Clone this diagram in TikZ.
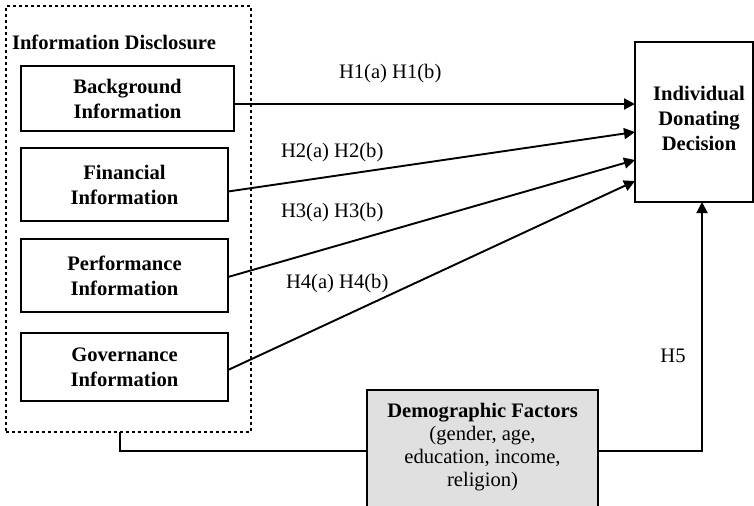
\documentclass[tikz,border=0pt]{standalone}
\usepackage{fontspec}
\setmainfont{Liberation Serif}
\usetikzlibrary{arrows.meta}
\begin{document}
\begin{tikzpicture}[x=0.5pt,y=-0.5pt,
  every node/.style={inner sep=0pt,outer sep=0pt},
  box/.style={draw,line width=0.95pt,align=center,
    font=\fontsize{10.3}{12.5}\selectfont\bfseries},
  hyp/.style={font=\fontsize{10.3}{12.5}\selectfont},
  link/.style={line width=0.95pt,-{Triangle[length=5.5pt,width=5.5pt]}},
  plain/.style={line width=0.95pt}]
\useasboundingbox (0,0) rectangle (754,505);
\clip (0,0) rectangle (754,505);

% dashed group of disclosure items
\node[draw,line width=0.9pt,dash pattern=on 1.6pt off 1.4pt,
  minimum width=122.5pt,minimum height=213pt] (disc) at (128.5,219) {};
\node[anchor=west,font=\fontsize{10.3}{12.5}\selectfont\bfseries] (disctitle) at (12,42) {Information Disclosure};

\node[box,minimum width=106.5pt,minimum height=32.5pt] (bg) at (127.5,98.5) {Background\\Information};
\node[box,minimum width=103.5pt,minimum height=36.5pt] (fin) at (124.5,184.5) {Financial\\Information};
\node[box,minimum width=103.5pt,minimum height=36.5pt] (perf) at (124.5,275.5) {Performance\\Information};
\node[box,minimum width=103.5pt,minimum height=34pt] (gov) at (124.5,367) {Governance\\Information};

% outcome
\node[draw,line width=0.95pt,minimum width=59pt,minimum height=80pt] (dec) at (694,122) {};
\node[align=center,font=\fontsize{10.3}{12.5}\selectfont\bfseries] (dectext) at (699,118) {Individual\\Donating\\Decision};

% moderator
\node[draw,line width=0.95pt,fill=black!12,minimum width=115.5pt,minimum height=70pt,anchor=north] (dem) at (482.5,390) {};
\node[align=center,font=\fontsize{10.3}{11.6}\selectfont] (demtext) at (482.5,447) {{\bfseries Demographic Factors}\\(gender, age,\\education, income,\\religion)};

% hypotheses
\draw[link] ([yshift=-2.75pt]bg.east) -- ([yshift=9pt]dec.west);
\draw[link] ([yshift=-3.5pt]fin.east) -- ([yshift=-5pt]dec.west);
\draw[link] ([yshift=-0.75pt]perf.east) -- ([yshift=-19pt]dec.west);
\draw[link] ([yshift=-1.5pt]gov.east) -- ([yshift=-29.5pt]dec.west);

\node[hyp,anchor=west] (h1) at (339,74) {H1(a) H1(b)};
\node[hyp,anchor=west] (h2) at (281,153) {H2(a) H2(b)};
\node[hyp,anchor=west] (h3) at (281,213) {H3(a) H3(b)};
\node[hyp,anchor=west] (h4) at (286,284) {H4(a) H4(b)};
\node[hyp] (h5) at (673,356) {H5};

% moderator links
\coordinate (c1) at (120,451);
\coordinate (c2) at (702,451);
\draw[plain] (disc.south -| c1) -- (c1) -- (dem.west |- c1);
\draw[link] (dem.east |- c2) -- (c2) -- (c2 |- dec.south);
\end{tikzpicture}
\end{document}
